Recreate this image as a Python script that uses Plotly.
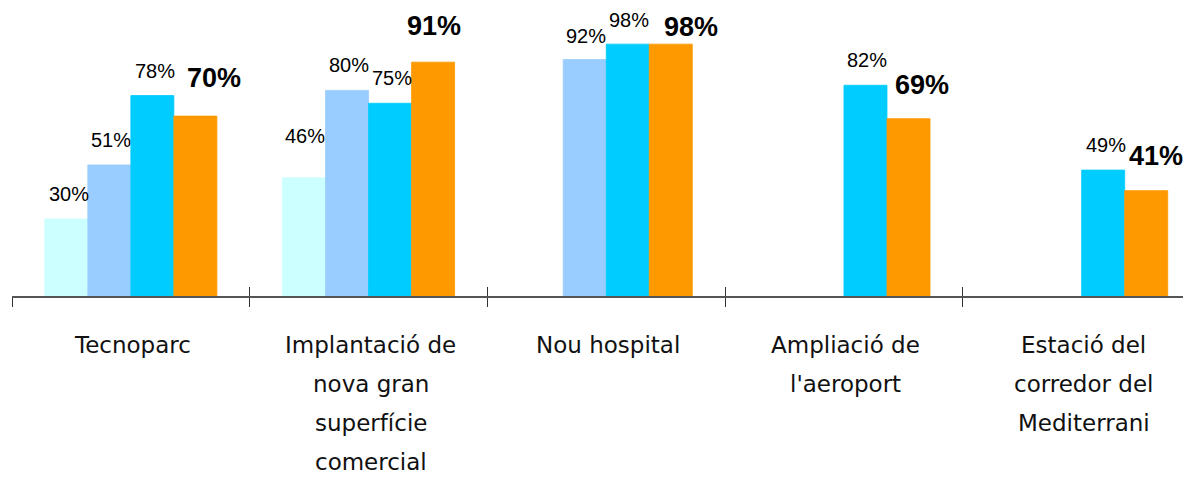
import plotly.graph_objects as go

# ---- data ----
categories = [
    "Tecnoparc",
    "Implantació de nova gran superfície comercial",
    "Nou hospital",
    "Ampliació de l'aeroport",
    "Estació del corredor del Mediterrani",
]
category_lines = [
    ["Tecnoparc"],
    ["Implantació de", "nova gran", "superfície", "comercial"],
    ["Nou hospital"],
    ["Ampliació de", "l'aeroport"],
    ["Estació del", "corredor del", "Mediterrani"],
]
series_names = ["Sèrie 1", "Sèrie 2", "Sèrie 3", "Sèrie 4"]
serie_1 = [30, 46, None, None, None]
serie_2 = [51, 80, 92, None, None]
serie_3 = [78, 75, 98, 82, 49]
serie_4 = [70, 91, 98, 69, 41]
series_values = [serie_1, serie_2, serie_3, serie_4]

# ---- style: label offsets (pixels, relative to bar centre / bar top) ----
label_dx = [
    [3, 1, 0, 0, 0],
    [2, 2, 1, 0, 0],
    [3, 2, 1, 2, 3],
    [19, 1, 20, 14, 10],
]
label_dy = [
    [25, 42, 0, 0, 0],
    [25, 25, 24, 0, 0],
    [25, 25, 24, 25, 25],
    [38, 36, 17, 34, 35],
]

colors = ["#CCFFFF", "#99CCFF", "#00CCFF", "#FF9900"]
W, H = 1191, 481
ML, MR, MT, MB = 4, 8, 31, 193
XRANGE = [-0.5, 4.46]
YRANGE = [0, 100]
BARGAP = 0.276
LABEL_FONT = "Liberation Sans"
CAT_FONT = "DejaVu Sans"

fig = go.Figure()
for name, vals, col in zip(series_names, series_values, colors):
    fig.add_trace(go.Bar(x=categories, y=vals, name=name,
                         marker=dict(color=col, line=dict(width=0.8, color=col)),
                         showlegend=False, hoverinfo="x+y"))

# invisible trace hosting the overlay axis used for the upper half of the ticks
fig.add_trace(go.Scatter(x=categories, y=[None] * len(categories), xaxis="x2", yaxis="y",
                         mode="markers", showlegend=False, hoverinfo="skip"))

plot_w = W - ML - MR
px_per_cat = plot_w / (XRANGE[1] - XRANGE[0])
n_series = len(series_values)
bar_px = px_per_cat * (1 - BARGAP) / n_series

annotations = []
for k, vals in enumerate(series_values):
    bold = (k == n_series - 1)
    for j, (cat, v) in enumerate(zip(categories, vals)):
        if v is None:
            continue
        xshift = (k - (n_series - 1) / 2) * bar_px + label_dx[k][j]
        annotations.append(dict(
            x=cat, y=v, xref="x", yref="y",
            text=(f"<b>{v}%</b>" if bold else f"{v}%"),
            showarrow=False, xanchor="center", yanchor="middle",
            xshift=xshift, yshift=label_dy[k][j],
            font=dict(family=LABEL_FONT, size=(27 if bold else 20), color="#000000"),
        ))

# category labels, one line each (wide line spacing as in the reference)
for cat, lines in zip(categories, category_lines):
    for i, line in enumerate(lines):
        annotations.append(dict(
            x=cat, y=0, xref="x", yref="y", text=line, showarrow=False,
            xanchor="center", yanchor="middle", yshift=-(49 + 39 * i), xshift=2,
            font=dict(family=CAT_FONT, size=23, color="#111111"),
        ))

fig.update_layout(
    width=W, height=H,
    margin=dict(l=ML, r=MR, t=MT, b=MB, pad=0),
    paper_bgcolor="white", plot_bgcolor="white",
    barmode="group", bargap=BARGAP, bargroupgap=0,
    font=dict(family=CAT_FONT, color="#000000"),
    xaxis=dict(type="category", categoryorder="array", categoryarray=categories,
               range=XRANGE, showticklabels=False, ticks="outside", tickson="boundaries",
               ticklen=9, tickwidth=1.2, tickcolor="#333333",
               showline=True, linecolor="#555555", linewidth=1.5, showgrid=False, zeroline=False,
               fixedrange=True),
    xaxis2=dict(type="category", categoryorder="array", categoryarray=categories,
                overlaying="x", side="bottom", anchor="y",
                range=XRANGE, showticklabels=False, ticks="inside", tickson="boundaries",
                ticklen=9, tickwidth=1.2, tickcolor="#333333",
                showline=False, showgrid=False, zeroline=False, fixedrange=True),
    yaxis=dict(range=YRANGE, visible=False, showgrid=False, zeroline=False, fixedrange=True),
    annotations=annotations,
)

fig.write_html("out.html")
